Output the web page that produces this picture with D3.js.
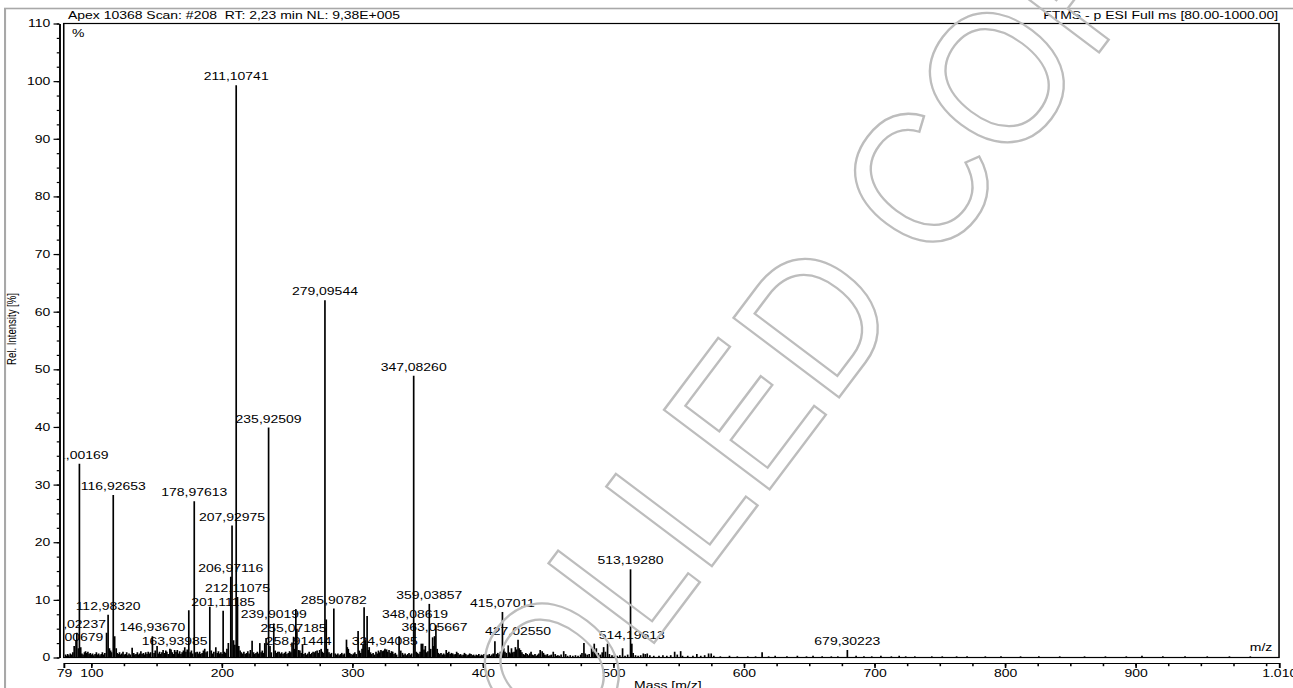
<!DOCTYPE html>
<html>
<head>
<meta charset="utf-8">
<script src="https://cdn.jsdelivr.net/npm/d3@7"></script>
<style>
  html, body { margin: 0; padding: 0; background: #fff; overflow: hidden; }
  #wrap { position: relative; width: 1293px; height: 688px; }
  #wrap svg { position: absolute; left: 0; top: 0; }
  text { font-family: "Liberation Sans", Arial, Helvetica, sans-serif; }
</style>
</head>
<body>
<div id="wrap"></div>
<script>
// ---- spectrum data: [m/z, relative intensity %] ----
const labeledPeaks = [
  [87.00679, 2.0], [89.02237, 4.3], [91.00169, 33.6], [112.98320, 7.4], [116.92653, 28.2],
  [146.93670, 3.7], [163.93985, 1.3], [178.97613, 27.1], [201.11185, 8.1], [206.97116, 14.0],
  [207.92975, 22.9], [211.10741, 99.3], [212.11075, 10.5], [235.92509, 39.9], [239.90199, 5.9],
  [255.07185, 3.6], [258.91444, 1.3], [279.09544, 62.0], [285.90782, 8.5], [324.94085, 1.3],
  [347.08260, 48.9], [348.08619, 6.0], [359.03857, 9.3], [363.05667, 3.7], [415.07011, 7.9],
  [427.02550, 3.1], [513.19280, 15.3], [514.19613, 2.4], [679.30223, 1.3]
];

const minorPeaks = [
  [88.4, 3.0], [90.2, 1.6], [92.0, 1.8], [111.8, 4.3], [114.0, 1.6], [118.0, 3.7], [119.2, 1.6],
  [131.4, 1.7], [150.5, 2.0], [157.2, 1.2], [160.3, 1.5], [171.7, 1.8], [174.8, 8.2], [181.2, 1.0],
  [187.0, 1.5], [190.9, 8.8], [195.5, 1.8], [204.0, 1.5], [205.1, 2.5], [209.1, 3.0], [210.1, 2.2],
  [213.1, 2.0], [223.3, 2.9], [229.2, 2.5], [233.0, 2.5], [234.0, 3.4], [237.0, 2.0], [241.0, 1.2],
  [244.0, 1.0], [253.9, 2.6], [256.8, 8.4], [257.6, 5.0], [261.9, 2.2], [270.0, 1.0], [273.1, 1.2],
  [276.2, 1.5], [280.1, 6.6], [281.1, 1.5], [295.6, 3.1], [297.0, 1.5], [304.5, 4.6], [309.1, 8.7],
  [311.4, 7.2], [313.0, 1.8], [318.2, 1.0], [320.1, 1.2], [326.3, 1.4], [328.2, 1.3], [331.0, 1.0],
  [335.9, 3.7], [337.2, 1.2], [349.1, 1.0], [352.9, 2.4], [354.0, 2.4], [356.0, 2.0], [361.6, 3.5],
  [364.1, 5.6], [372.0, 1.3], [376.0, 0.8], [380.0, 1.0], [386.0, 0.8], [390.0, 0.7], [409.3, 2.8],
  [417.0, 1.0], [419.5, 2.1], [422.0, 1.6], [425.0, 1.8], [429.0, 1.3], [433.0, 0.8], [437.0, 1.0],
  [444.0, 1.3], [445.5, 1.1], [454.0, 1.0], [462.0, 1.1], [477.5, 2.5], [483.4, 1.7], [485.4, 2.4],
  [487.0, 1.6], [492.6, 1.8], [495.6, 2.4], [507.1, 1.6], [523.0, 0.7], [526.0, 0.7], [547.0, 1.0],
  [551.6, 1.1], [564.0, 0.6], [573.0, 0.7], [575.0, 0.7], [614.0, 0.9]
];

const noisePeaks = [
  [80.3,.5],[81.1,.3],[82.0,.6],[82.9,.4],[84.0,.7],[85.1,.5],[86.0,.9],[92.9,.7],[93.8,.5],[94.9,.9],
  [95.7,1.1],[96.6,.8],[97.5,1.0],[98.4,.6],[99.3,.8],[100.2,.5],[101.1,.7],[102.0,.4],[103.0,.6],[104.0,.9],
  [104.9,.5],[105.8,.7],[106.8,.4],[107.7,.6],[108.6,.9],[109.6,.5],[110.5,.8],[114.9,1.2],[115.6,.9],[119.9,.8],
  [120.8,.6],[121.7,.9],[122.6,.5],[123.5,.7],[124.4,1.0],[125.4,.5],[126.3,.6],[127.2,.9],[128.1,.4],[129.0,.7],
  [130.0,.5],[132.6,.8],[133.5,.5],[134.4,.6],[135.4,.9],[136.3,.5],[137.2,.7],[138.1,1.1],[139.0,.6],[140.0,.8],
  [140.9,.5],[141.8,.9],[142.8,.6],[143.7,1.0],[144.6,.7],[145.5,.9],[148.2,.8],[149.1,1.2],[151.5,.7],[152.4,1.0],
  [153.3,.6],[154.2,.9],[155.1,1.3],[156.1,.8],[158.0,1.0],[159.0,.6],[161.2,1.4],[162.1,.9],[163.0,.6],[165.0,1.0],
  [166.0,1.3],[166.9,.7],[167.8,1.1],[168.8,.6],[169.7,.9],[170.7,1.2],[172.6,1.0],[173.6,1.4],[175.9,.9],[176.8,1.2],
  [177.7,.7],[180.2,.9],[182.2,.7],[183.1,1.0],[184.0,.6],[185.0,.8],[186.0,1.2],[188.0,.9],[189.0,1.1],[192.0,1.2],
  [193.0,.7],[194.0,1.0],[196.6,.8],[197.5,1.1],[198.5,.7],[199.4,.9],[200.3,.6],[202.2,1.0],[203.1,.8],[214.1,1.2],
  [215.0,.9],[216.0,.7],[217.0,1.0],[218.0,.6],[219.0,.8],[220.0,1.1],[221.0,.7],[222.0,1.3],[224.4,.9],[225.4,.6],
  [226.3,.8],[227.3,1.0],[228.2,.7],[230.2,.9],[231.1,1.2],[232.0,.8],[238.0,.9],[242.0,.8],[243.0,1.0],[245.0,.7],
  [246.0,.9],[247.0,.6],[248.0,.8],[249.0,1.0],[250.0,.6],[251.0,.8],[252.0,1.1],[253.0,.9],[255.9,1.5],[259.9,1.2],
  [260.9,.8],[263.0,.6],[264.0,.8],[265.0,.5],[266.0,.7],[267.0,1.0],[268.0,.6],[269.0,.8],[271.0,.9],[272.0,1.1],
  [274.0,.8],[275.0,1.3],[277.1,1.0],[278.1,.8],[282.2,.9],[283.1,.6],[284.1,.8],[287.0,.7],[288.0,.5],[289.0,.7],
  [290.0,.4],[291.0,.6],[292.0,.8],[293.0,.5],[294.0,.7],[296.2,1.8],[298.0,.8],[299.0,.6],[300.0,.5],[301.0,.7],
  [302.0,.9],[303.0,.6],[305.5,1.2],[306.5,.8],[307.5,1.5],[308.3,2.2],[310.2,3.0],[312.2,1.3],[314.0,.9],[315.0,.6],
  [316.0,.8],[317.1,.5],[319.1,.7],[321.1,.9],[322.0,1.3],[323.0,1.1],[324.0,1.2],[325.1,1.5],[327.2,1.0],[329.1,.8],
  [330.1,1.1],[332.0,.6],[333.0,.8],[334.0,.5],[338.5,.8],[339.5,.5],[340.5,.7],[341.5,.4],[342.5,.6],[343.5,.8],
  [344.5,.5],[345.5,.7],[350.0,.8],[351.0,.6],[352.0,1.0],[355.0,1.4],[357.0,.9],[358.0,1.1],[360.1,1.5],[362.2,2.0],
  [365.1,1.5],[366.0,.8],[367.0,.6],[368.0,.8],[369.0,.5],[370.0,.7],[371.0,.5],[373.0,.8],[374.0,1.0],[375.0,.6],
  [377.0,.7],[378.0,.5],[379.0,.6],[381.0,.8],[382.0,.5],[383.0,.6],[384.0,.4],[385.0,.5],[387.0,.6],[388.0,.4],
  [389.0,.5],[391.0,.6],[392.0,.4],[393.0,.5],[394.0,.3],[395.0,.5],[396.0,.4],[397.0,.6],[398.0,.3],[399.0,.5],
  [400.0,.4],[401.0,.6],[402.0,.3],[403.0,.5],[404.0,.4],[405.0,.6],[406.0,.3],[407.0,.5],[408.0,.7],[410.5,.6],
  [411.5,.8],[412.5,.5],[413.5,1.0],[414.2,.9],[416.1,1.6],[418.0,.8],[420.5,.9],[421.5,.7],[423.0,.9],[424.0,1.0],
  [426.0,1.4],[428.0,1.6],[430.0,.9],[431.0,.6],[432.0,.5],[434.0,.6],[435.0,.4],[436.0,.7],[438.0,.5],[439.0,.4],
  [440.0,.6],[441.0,.3],[442.0,.5],[443.0,.7],[446.5,.8],[447.5,.5],[448.5,.4],[449.5,.6],[450.5,.3],[451.5,.4],
  [452.5,.5],[455.5,.6],[456.5,.3],[457.5,.4],[458.5,.3],[460.0,.5],[463.5,.6],[465.0,.3],[467.0,.4],[469.0,.3],
  [471.0,.4],[473.0,.3],[475.0,.5],[476.0,.8],[478.5,.7],[480.0,.5],[481.5,.6],[484.3,1.0],[486.2,1.2],[488.5,.8],
  [490.0,.5],[491.5,.9],[494.0,1.0],[497.0,.6],[499.0,.4],[501.0,.5],[503.0,.3],[505.0,.4],[509.0,.3],[511.0,.5],
  [515.2,.8],[517.0,.4],[519.0,.3],[521.0,.4],[524.5,.6],[528.0,.4],[531.0,.3],[535.0,.3],[538.0,.4],[541.0,.3],
  [544.0,.4],[549.0,.5],[553.0,.3],[557.0,.3],[561.0,.3],[567.0,.3],[570.0,.4],[577.0,.3],[582.0,.2],[589.0,.3],
  [595.0,.2],[603,.2],[609,.2],[619,.2],[624,.3],[633,.2],[641,.3],[648,.2],[653,.3],[660,.2],
  [667,.2],[672,.2],[686,.3],[692,.2],[698,.2],[705,.3],[713,.2],[719,.3],[724,.2],[731,.2],
  [744,.2],[752,.2],[763,.2],[771,.2],[785,.2],[797,.2],[812,.2],[826,.2],[842,.2],[861,.2],
  [877,.2],[893,.2],[905,.3],[921,.2],[938,.2],[955,.2],[972,.2],[988,.2]
];

// ---- axis ticks ----
const xMajorTicks = [79, 100, 200, 300, 400, 500, 600, 700, 800, 900, 1010];
const xTickLabels = ["79", "100", "200", "300", "400", "500", "600", "700", "800", "900", "1.010"];
const xMinorTicks = d3.range(100, 1001, 25);
const yMajorTicks = d3.range(0, 111, 10);
const yMinorTicks = d3.range(0, 110.1, 2.5);

const headerLeft = "Apex 10368 Scan: #208  RT: 2,23 min NL: 9,38E+005";
const headerRight = "FTMS - p ESI Full ms [80.00-1000.00]";
const watermarkText = "CONTROLLED COPY";

// ---- layout: chart is drawn in a 1000-unit wide space, stretched to the window ----
const W = 1293, H = 688, VW = 1000;
const FS = 10.8;
const plot = { left: 49.3, right: 989.2, top: 23.5, bottom: 657.5 };

const x = d3.scaleLinear().domain([79, 1010]).range([plot.left, plot.right]);
const y = d3.scaleLinear().domain([0, 110]).range([plot.bottom, plot.top]);

const svg = d3.select("#wrap").append("svg")
  .attr("width", W).attr("height", H)
  .attr("viewBox", `0 0 ${VW} ${H}`)
  .attr("preserveAspectRatio", "none");

// outer panel border
svg.append("rect")
  .attr("x", 3.9).attr("y", 8.5).attr("width", 1100).attr("height", 800)
  .attr("fill", "none").attr("stroke", "#a8a8a8").attr("stroke-width", 1.6);

// headers
svg.append("text").attr("x", 52.6).attr("y", 19.3)
  .attr("font-size", FS).style("white-space", "pre").attr("fill", "#000")
  .text(headerLeft);
svg.append("text").attr("x", 988.5).attr("y", 19.3).attr("text-anchor", "end")
  .attr("font-size", FS).attr("fill", "#000")
  .text(headerRight);

// plot frame
svg.append("rect")
  .attr("x", plot.left).attr("y", plot.top)
  .attr("width", plot.right - plot.left).attr("height", plot.bottom - plot.top)
  .attr("fill", "none").attr("stroke", "#000").attr("stroke-width", 1.2);

svg.append("defs").append("clipPath").attr("id", "plotClip")
  .append("rect")
  .attr("x", plot.left + 0.6).attr("y", plot.top + 0.6)
  .attr("width", plot.right - plot.left - 1.2).attr("height", plot.bottom - plot.top);

// y axis (separate line left of the frame)
const yAxisX = 45.9;
const yMinor = svg.append("g").attr("transform", `translate(${yAxisX},0)`)
  .call(d3.axisLeft(y).tickValues(yMinorTicks).tickSize(2).tickSizeOuter(0).tickFormat(""));
const yMajor = svg.append("g").attr("transform", `translate(${yAxisX},0)`)
  .call(d3.axisLeft(y).tickValues(yMajorTicks).tickSize(4.5).tickSizeOuter(0).tickPadding(2.6));
[yMinor, yMajor].forEach(g => {
  g.attr("font-family", null).attr("font-size", null);
  g.selectAll("line").attr("stroke", "#000").attr("stroke-width", 1.2);
  g.select(".domain").attr("stroke", "#000").attr("stroke-width", 1.2);
});
yMajor.selectAll("text").attr("font-size", FS).attr("fill", "#000");

svg.append("text")
  .attr("transform", `translate(12.6, 329) rotate(-90)`)
  .attr("text-anchor", "middle").attr("font-size", 9.6).attr("fill", "#000")
  .text("Rel. Intensity [%]");

// x axis (below the frame)
const xAxisY = 663;
const xMinor = svg.append("g").attr("transform", `translate(0,${xAxisY})`)
  .call(d3.axisBottom(x).tickValues(xMinorTicks).tickSize(3.2).tickSizeOuter(0).tickFormat(""));
xMinor.select(".domain").remove();
const xMajor = svg.append("g").attr("transform", `translate(0,${xAxisY})`)
  .call(d3.axisBottom(x).tickValues(xMajorTicks).tickSize(5).tickSizeOuter(5).tickPadding(1)
    .tickFormat(d => xTickLabels[xMajorTicks.indexOf(d)]));
[xMinor, xMajor].forEach(g => {
  g.attr("font-family", null).attr("font-size", null);
  g.selectAll("line").attr("stroke", "#000").attr("stroke-width", 1.2);
  g.select(".domain").attr("stroke", "#000").attr("stroke-width", 1.2);
});
xMajor.selectAll("text").attr("font-size", FS).attr("fill", "#000");

svg.append("text").attr("x", 516.5).attr("y", 689.5).attr("text-anchor", "middle")
  .attr("font-size", FS).attr("fill", "#000").text("Mass [m/z]");

// in-plot annotations
svg.append("text").attr("x", 55.6).attr("y", 36.8).attr("font-size", FS).attr("fill", "#000").text("%");
svg.append("text").attr("x", 984).attr("y", 651).attr("text-anchor", "end")
  .attr("font-size", FS).attr("fill", "#000").text("m/z");

// peaks
const plotG = svg.append("g").attr("clip-path", "url(#plotClip)");
const allPeaks = noisePeaks.concat(minorPeaks, labeledPeaks);
plotG.append("g").selectAll("line").data(allPeaks).join("line")
  .attr("x1", d => x(d[0])).attr("x2", d => x(d[0]))
  .attr("y1", y(0)).attr("y2", d => y(d[1]))
  .attr("stroke", "#000").attr("stroke-width", 1.3);

// peak labels: m/z with decimal comma
const fmt = d3.format(".5f");
plotG.append("g").selectAll("text").data(labeledPeaks).join("text")
  .attr("x", d => x(d[0])).attr("y", d => y(d[1]) - 5)
  .attr("text-anchor", "middle").attr("font-size", FS).attr("fill", "#000")
  .text(d => fmt(d[0]).replace(".", ","));

// watermark, drawn in window pixels on top of the chart
const wm = d3.select("#wrap").append("svg")
  .attr("width", W).attr("height", H)
  .style("pointer-events", "none");
wm.append("text")
  .attr("transform", "translate(712,566) rotate(-53) scale(0.9,1)")
  .attr("text-anchor", "middle")
  .attr("font-size", 192)
  .attr("fill", "none").attr("stroke", "#bdbdbd").attr("stroke-width", 2.4)
  .text(watermarkText);
</script>
</body>
</html>
